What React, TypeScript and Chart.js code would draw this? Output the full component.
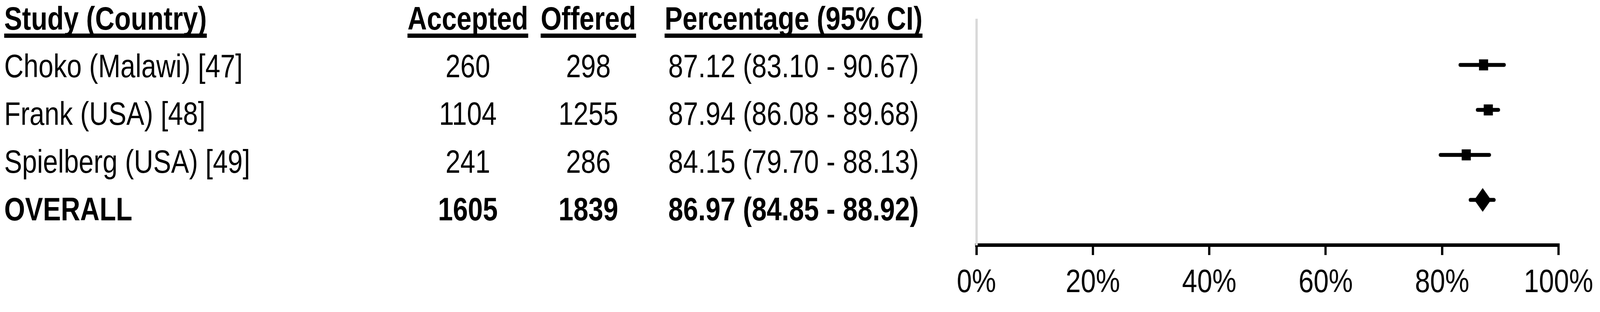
import { useEffect, useRef, useState } from "react";
import { Chart, registerables } from "chart.js";

Chart.register(...registerables);

// table + forest plot data
const studies = ["Choko (Malawi) [47]", "Frank (USA) [48]", "Spielberg (USA) [49]", "OVERALL"];
const accepted = [260, 1104, 241, 1605];
const offered = [298, 1255, 286, 1839];
const percent = [87.12, 87.94, 84.15, 86.97];
const ciLow = [83.1, 86.08, 79.7, 84.85];
const ciHigh = [90.67, 89.68, 88.13, 88.92];
const headers = ["Study (Country)", "Accepted", "Offered", "Percentage (95% CI)"];
const xTickStep = 20;

const PAGE_W = 4952;
const PAGE_H = 800;
const FONT = "'Liberation Sans', Arial, Helvetica, sans-serif";
const FONT_SIZE = 83;
const LINE_H = 100;
const HEADER_TOP = -2;
const ROW_TOP = 120;
const ROW_STEP = 122.3;
const NAME_LEFT = 13;
const COL_CENTERS = [1448, 1821, 2456];

const fmt = (v: number) => v.toFixed(2);

// pooled estimate marker: a diamond a bit taller than wide
const makeDiamond = (w: number, h: number) => {
  const c = document.createElement("canvas");
  c.width = w;
  c.height = h;
  const g = c.getContext("2d");
  if (g) {
    g.fillStyle = "#000";
    g.beginPath();
    g.moveTo(w / 2, 0);
    g.lineTo(w, h / 2);
    g.lineTo(w / 2, h);
    g.lineTo(0, h / 2);
    g.closePath();
    g.fill();
  }
  return c;
};

const Cell: React.FC<{ top: number; left?: number; center?: number; bold?: boolean; underline?: boolean; text: string }> = (props) => {
  const style: React.CSSProperties = {
    position: "absolute",
    top: props.top,
    height: LINE_H,
    lineHeight: LINE_H + "px",
    fontFamily: FONT,
    fontSize: FONT_SIZE,
    fontWeight: props.bold ? "bold" : "normal",
    whiteSpace: "nowrap",
    color: "#000",
  };
  if (props.center !== undefined) {
    style.left = props.center - 500;
    style.width = 1000;
    style.textAlign = "center";
  } else {
    style.left = props.left;
  }
  return (
    <div style={style}>
      <span
        style={
          props.underline
            ? {
                textDecoration: "underline",
                textDecorationThickness: "11px",
                textUnderlineOffset: "10px",
                textDecorationSkipInk: "none",
              }
            : undefined
        }
      >
        {props.text}
      </span>
    </div>
  );
};

const ForestPlot: React.FC = () => {
  const chartRef = useRef<HTMLCanvasElement | null>(null);

  useEffect(() => {
    if (!chartRef.current) return;
    const ctx = chartRef.current.getContext("2d");
    if (!ctx) return;

    const last = studies.length - 1;
    const diamond = makeDiamond(52, 61);
    const ciSets = studies.map((s, i) => ({
      type: "line" as const,
      label: s + " CI",
      data: [
        { x: ciLow[i], y: i + 1 },
        { x: ciHigh[i], y: i + 1 },
      ],
      borderColor: "#000",
      borderWidth: 10,
      borderCapStyle: "round" as const,
      pointRadius: 0,
      showLine: true,
      order: 2,
    }));

    const chart = new Chart(ctx, {
      type: "scatter",
      data: {
        datasets: [
          {
            label: "Percentage",
            data: percent.map((p, i) => ({ x: p, y: i + 1 })),
            backgroundColor: "#000",
            borderWidth: 0,
            pointStyle: studies.map((_, i) => (i === last ? diamond : "rect")),
            pointRadius: studies.map((_, i) => (i === last ? 30 : 20)),
            order: 1,
          },
          ...ciSets,
        ] as any,
      },
      options: {
        responsive: false,
        animation: false,
        devicePixelRatio: 1,
        events: [],
        layout: { padding: { left: 122, right: 120, top: 51, bottom: 0 } },
        plugins: { legend: { display: false }, tooltip: { enabled: false } },
        scales: {
          x: {
            type: "linear",
            min: 0,
            max: 100,
            afterFit: (scale: any) => {
              scale.height = 172;
            },
            ticks: {
              stepSize: xTickStep,
              callback: (v: any) => v + "%",
              color: "#000",
              padding: 21,
              maxRotation: 0,
              font: { family: FONT, size: 84 },
            },
            grid: {
              drawOnChartArea: false,
              drawTicks: true,
              tickLength: 26,
              tickWidth: 7,
              lineWidth: 7,
              color: "#000",
            },
            border: { display: true, color: "#000", width: 9 },
          },
          y: {
            type: "linear",
            min: 0,
            max: studies.length + 1,
            reverse: true,
            afterFit: (scale: any) => {
              scale.width = 0;
            },
            ticks: { display: false },
            grid: { drawOnChartArea: false, drawTicks: false },
            border: { display: true, color: "#d9d9d9", width: 7 },
          },
        },
      },
    });
    return () => chart.destroy();
  }, []);

  return (
    <canvas
      ref={chartRef}
      width={2052}
      height={800}
      style={{ position: "absolute", left: 2900, top: 0, width: 2052, height: 800 }}
    />
  );
};

const App: React.FC = () => {
  // the browser window may be narrower than the 4952px figure; squeeze horizontally to fit
  const [sx, setSx] = useState(1);
  useEffect(() => {
    document.body.style.margin = "0";
    document.body.style.overflow = "hidden";
    setSx(Math.min(1, window.innerWidth / PAGE_W));
  }, []);

  return (
    <div style={{ width: "100vw", height: PAGE_H, overflow: "hidden", background: "#fff" }}>
      <div
        style={{
          position: "relative",
          width: PAGE_W,
          height: PAGE_H,
          background: "#fff",
          transform: `scaleX(${sx})`,
          transformOrigin: "0 0",
        }}
      >
        <Cell top={HEADER_TOP} left={NAME_LEFT} bold underline text={headers[0]} />
        <Cell top={HEADER_TOP} center={COL_CENTERS[0]} bold underline text={headers[1]} />
        <Cell top={HEADER_TOP} center={COL_CENTERS[1]} bold underline text={headers[2]} />
        <Cell top={HEADER_TOP} center={COL_CENTERS[2]} bold underline text={headers[3]} />
        {studies.map((s, i) => {
          const top = ROW_TOP + i * ROW_STEP;
          const bold = i === studies.length - 1;
          return (
            <div key={s}>
              <Cell top={top} left={NAME_LEFT} bold={bold} text={s} />
              <Cell top={top} center={COL_CENTERS[0]} bold={bold} text={String(accepted[i])} />
              <Cell top={top} center={COL_CENTERS[1]} bold={bold} text={String(offered[i])} />
              <Cell
                top={top}
                center={COL_CENTERS[2]}
                bold={bold}
                text={`${fmt(percent[i])} (${fmt(ciLow[i])} - ${fmt(ciHigh[i])})`}
              />
            </div>
          );
        })}
        <ForestPlot />
      </div>
    </div>
  );
};

export default App;
